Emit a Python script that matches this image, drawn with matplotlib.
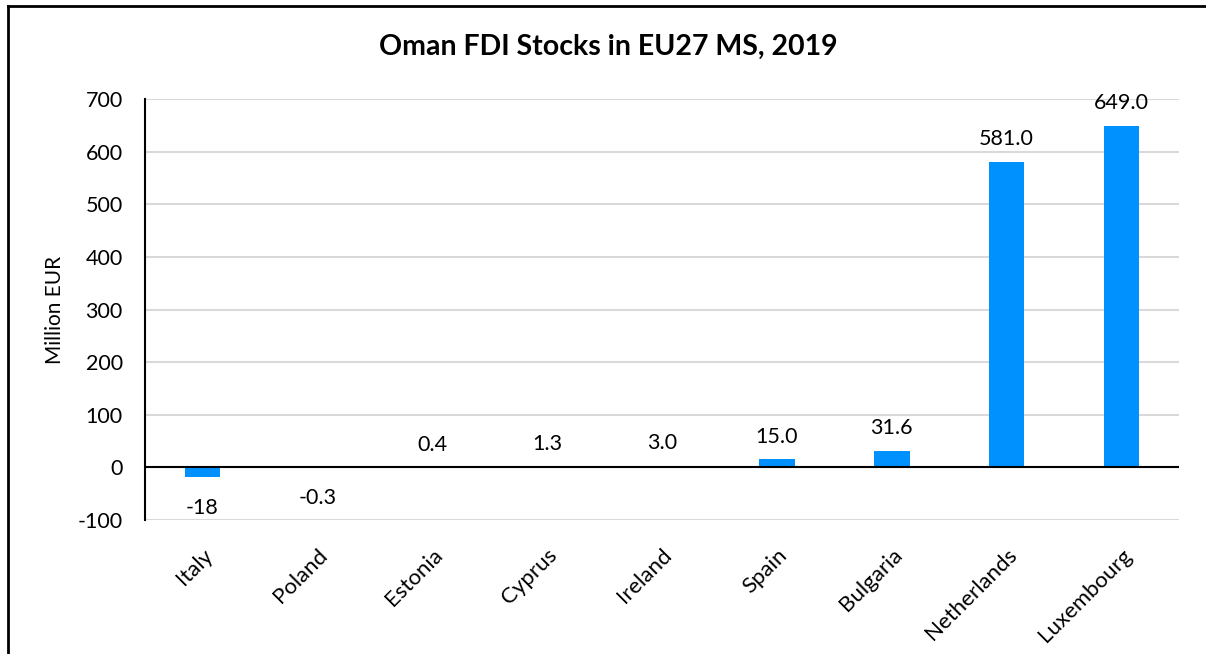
import matplotlib
matplotlib.use("Agg")
import matplotlib.pyplot as plt
from matplotlib.lines import Line2D

countries = ["Italy", "Poland", "Estonia", "Cyprus", "Ireland", "Spain", "Bulgaria", "Netherlands", "Luxembourg"]
values = [-18, -0.3, 0.4, 1.3, 3.0, 15.0, 31.6, 581.0, 649.0]
labels = ["-18", "-0.3", "0.4", "1.3", "3.0", "15.0", "31.6", "581.0", "649.0"]
yticks = [-100, 0, 100, 200, 300, 400, 500, 600, 700]

plt.rcParams['font.family'] = ['Lato', 'DejaVu Sans']

fig = plt.figure(figsize=(12.06, 6.54), dpi=100)
ax = fig.add_axes([145/1206, 1-520/654, (1179-145)/1206, (520-99)/654])

x = list(range(len(countries)))
ax.bar(x, values, width=0.31, color="#0091FF", zorder=3)
ax.set_xlim(-0.5, len(countries)-0.5)
ax.set_ylim(-100, 700)
ax.set_yticks(yticks)
ax.set_yticklabels([str(t) for t in yticks], fontsize=15.5)
ax.yaxis.grid(True, color="#d9d9d9", linewidth=1.5, zorder=0)
ax.set_axisbelow(True)
ax.axhline(0, color="black", linewidth=1.5, zorder=4)
for s in ["top", "right", "bottom"]:
    ax.spines[s].set_visible(False)
ax.spines["left"].set_linewidth(1.5)
ax.tick_params(axis="y", length=0, pad=16)
ax.tick_params(axis="x", length=0, pad=18)
ax.set_xticks(x)
ax.set_xticklabels(countries, rotation=45, ha="right", rotation_mode="anchor", fontsize=16)
ax.set_ylabel("Million EUR", fontsize=15, labelpad=9)

for xi, v, lab in zip(x, values, labels):
    if v >= 0:
        ax.annotate(lab, (xi, v), xytext=(0, 9), textcoords="offset points",
                    ha="center", va="bottom", fontsize=15.5)
    else:
        ax.annotate(lab, (xi, v), xytext=(0, -15), textcoords="offset points",
                    ha="center", va="top", fontsize=15.5)

fig.text(608/1206, 1-47/654, "Oman FDI Stocks in EU27 MS, 2019", ha="center", va="center",
         fontsize=20.5, fontweight="bold")

# chart frame: left and top edges
yb = 1-6/654
xl = 8/1206
fig.lines.append(Line2D([xl, xl], [0, yb], transform=fig.transFigure, color="black", linewidth=2))
fig.lines.append(Line2D([xl, 1.0], [yb, yb], transform=fig.transFigure, color="black", linewidth=2))

fig.savefig("out.png", dpi=100)
